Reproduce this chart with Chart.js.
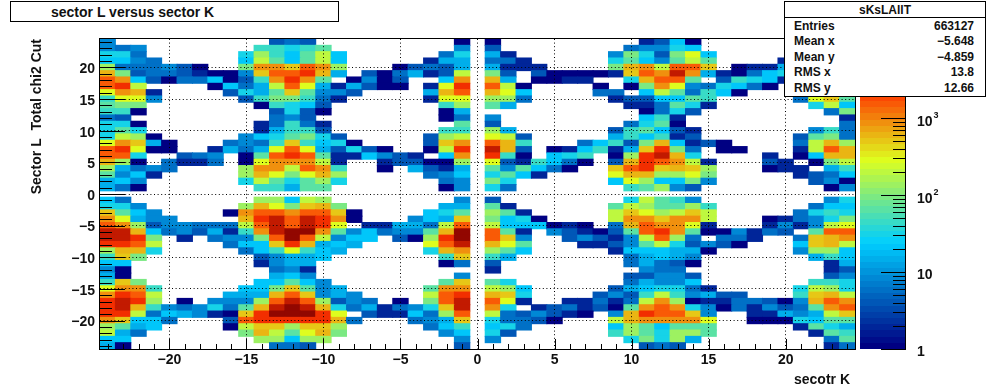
<!DOCTYPE html>
<html><head><meta charset="utf-8">
<script src="https://cdn.jsdelivr.net/npm/chart.js@4"></script>
<style>
html,body{margin:0;padding:0;background:#fff}
#wrap{position:relative;width:1006px;height:388px;overflow:hidden;font:bold 14px "Liberation Sans",Arial,sans-serif;color:#111}
canvas{position:absolute;left:0;top:0}
#title{position:absolute;left:10px;top:1px;width:327px;height:19px;border:1px solid #000;background:#fff;line-height:20px}
#title span{position:absolute;left:40px;top:0;white-space:nowrap}
#xtitle{position:absolute;right:156px;top:371px;line-height:16px;white-space:nowrap}
#stats{position:absolute;left:784px;top:1px;width:200px;height:94px;border:1px solid #000;background:#fff;font-size:12px}
#stats .h{position:absolute;left:0;right:0;top:0;height:15px;line-height:16px;text-align:center;border-bottom:1px solid #000}
#stats .l,#stats .v{position:absolute;line-height:14px;white-space:nowrap}
#stats .l{left:9px}#stats .v{right:11px}
</style></head><body>
<div id="wrap"><canvas id="c" width="1006" height="388"></canvas>
<div id="title"><span>sector L versus sector K</span></div>
<div id="xtitle"></div>
<div id="stats"><div class="h" id="sh"></div></div></div>
<script>
const chartTitle="sector L versus sector K";
const xTitle="secotr K";
const yTitle="Sector L  Total chi2 Cut";
const statsName="sKsLAllT";
const statsLabels=["Entries","Mean x","Mean y","RMS x","RMS y"];
const statsValues=["663127","\u22125.648","\u22124.859","13.8","12.66"];
const xTickValues=[-20,-15,-10,-5,0,5,10,15,20];
const yTickValues=[-20,-15,-10,-5,0,5,10,15,20];
const xMinorValues=[-24,-23,-22,-21,-19,-18,-17,-16,-14,-13,-12,-11,-9,-8,-7,-6,-4,-3,-2,-1,1,2,3,4,6,7,8,9,11,12,13,14,16,17,18,19,21,22,23,24];
const yMinorValues=xMinorValues;
const zMajorValues=[1,10,100,1000];
const zMinorValues=[2,3,4,5,6,7,8,9,20,30,40,50,60,70,80,90,200,300,400,500,600,700,800,900,2000,3000,4000,5000,6000,7000,8000,9000];
const zMax=10700;

// each row: [x, count] pairs for one y value
const row_p24=[[-24,9],[-13,4],[-12,6],[-11,4],[-1,1],[1,1],[11,2],[12,4],[13,23],[14,1]];
const row_p23=[[-24,9],[-23,6],[-22,9],[-14,45],[-13,45],[-12,32],[-11,45],[-10,70],[-1,9],[1,4],[10,6],[11,9],[12,9],[13,32],[14,23]];
const row_p22=[[-24,32],[-23,32],[-22,6],[-15,32],[-14,137],[-13,45],[-12,23],[-11,70],[-10,208],[-9,23],[-2,6],[-1,32],[1,14],[2,2],[9,9],[10,95],[11,32],[12,4],[13,95],[14,300],[15,23]];
const row_p21=[[-24,23],[-23,23],[-22,9],[-21,6],[-15,23],[-14,208],[-13,70],[-12,23],[-11,70],[-10,208],[-9,23],[-3,2],[-2,14],[-1,14],[1,6],[2,6],[3,2],[9,32],[10,70],[11,23],[12,9],[13,70],[14,208],[15,70],[20,2]];
const row_p20=[[-24,137],[-23,6],[-22,6],[-21,6],[-20,9],[-19,4],[-18,1],[-15,95],[-14,955],[-13,955],[-12,457],[-11,1500],[-10,955],[-9,137],[-5,1],[-4,4],[-3,6],[-2,4],[-1,14],[1,14],[2,2],[3,2],[4,2],[9,95],[10,660],[11,955],[12,208],[13,1500],[14,1500],[15,457],[17,1],[18,2],[19,2],[20,14]];
const row_p19=[[-24,660],[-23,95],[-22,4],[-21,6],[-20,6],[-19,4],[-18,2],[-17,1],[-16,1],[-15,9],[-14,457],[-13,1500],[-12,1500],[-11,2700],[-10,660],[-9,14],[-7,4],[-6,1],[-5,6],[-4,14],[-3,2],[-2,4],[-1,208],[1,95],[2,4],[4,4],[5,1],[6,1],[7,1],[8,1],[9,2],[10,457],[11,1500],[12,955],[13,4700],[14,955],[15,14],[16,2],[17,1],[18,6],[19,23],[20,32]];
const row_p18=[[-24,1500],[-23,955],[-22,23],[-21,4],[-20,1],[-19,6],[-18,6],[-17,23],[-16,1],[-15,4],[-14,45],[-13,955],[-12,2700],[-11,955],[-10,70],[-8,1],[-7,9],[-6,1],[-5,4],[-2,23],[-1,955],[1,660],[2,14],[4,1],[5,1],[6,2],[7,2],[10,32],[11,660],[12,1500],[13,1500],[14,70],[16,4],[17,45],[18,32],[19,23],[20,2]];
const row_p17=[[-24,1500],[-23,2700],[-22,208],[-17,1],[-16,23],[-15,6],[-14,14],[-13,208],[-12,1500],[-11,300],[-10,14],[-9,2],[-8,14],[-7,4],[-6,1],[-5,1],[-3,2],[-2,300],[-1,2700],[1,1500],[2,208],[3,1],[8,1],[10,1],[11,95],[12,955],[13,300],[14,9],[15,6],[16,32],[17,23],[18,6],[19,1]];
const row_p16=[[-24,300],[-23,955],[-22,660],[-21,2],[-16,4],[-15,32],[-14,14],[-13,70],[-12,457],[-11,70],[-10,9],[-9,9],[-8,4],[-3,14],[-2,660],[-1,1500],[1,660],[2,300],[3,23],[8,6],[9,6],[11,23],[12,208],[13,70],[14,6],[15,45],[16,23],[17,1]];
const row_p15=[[-24,45],[-23,300],[-22,300],[-21,9],[-15,4],[-14,45],[-13,95],[-12,95],[-11,45],[-10,6],[-9,2],[-3,2],[-2,300],[-1,300],[1,137],[2,137],[3,6],[9,2],[10,4],[11,4],[12,23],[13,23],[14,70],[15,45],[21,6],[22,300],[23,457],[24,70]];
const row_p14=[[-24,70],[-23,95],[-22,95],[-14,1],[-13,45],[-12,32],[-11,23],[-10,4],[-2,45],[-1,137],[1,70],[2,14],[10,2],[11,2],[12,6],[13,70],[14,32],[15,2],[22,32],[23,208],[24,23]];
const row_p13=[[-24,45],[-23,45],[-22,1],[-13,4],[-12,32],[-11,4],[-10,1],[-2,1],[-1,14],[11,1],[12,6],[13,32],[14,4],[23,6],[24,95]];
const row_p12=[[-24,6],[-23,4],[-13,6],[-12,9],[-11,4],[-2,1],[-1,6],[1,9],[11,23],[12,45],[13,2],[24,2]];
const row_p11=[[-24,32],[-23,32],[-22,1],[-14,2],[-13,6],[-12,45],[-11,6],[-10,2],[-1,70],[1,4],[10,6],[11,32],[12,70],[13,1],[24,6]];
const row_p10=[[-24,32],[-23,70],[-22,32],[-14,2],[-13,14],[-12,45],[-11,45],[-10,4],[-2,45],[-1,45],[1,137],[2,14],[9,4],[10,45],[11,70],[12,23],[13,4],[14,2],[22,9],[23,45],[24,6]];
const row_p9=[[-24,32],[-23,208],[-22,137],[-21,1],[-15,9],[-14,23],[-13,32],[-12,70],[-11,95],[-10,32],[-9,4],[-3,4],[-2,137],[-1,208],[1,300],[2,208],[3,4],[9,14],[10,45],[11,23],[12,45],[13,2],[14,4],[21,4],[22,70],[23,95],[24,6]];
const row_p8=[[-24,300],[-23,955],[-22,457],[-21,14],[-20,1],[-16,6],[-15,9],[-14,6],[-13,45],[-12,457],[-11,45],[-10,23],[-9,32],[-8,1],[-3,4],[-2,457],[-1,955],[1,1500],[2,660],[3,45],[7,6],[8,23],[9,45],[10,4],[11,95],[12,660],[13,23],[14,2],[15,4],[16,1],[21,6],[22,208],[23,660],[24,137]];
const row_p7=[[-24,1500],[-23,2700],[-22,300],[-21,1],[-20,1],[-17,2],[-16,14],[-15,6],[-14,14],[-13,300],[-12,1500],[-11,300],[-10,14],[-9,4],[-8,32],[-7,4],[-6,1],[-3,1],[-2,208],[-1,2700],[1,4700],[2,660],[3,4],[5,1],[6,2],[7,23],[8,45],[9,2],[10,14],[11,457],[12,2700],[13,95],[14,6],[16,1],[17,1],[21,2],[22,208],[23,1500],[24,660]];
const row_p6=[[-24,1500],[-23,1500],[-22,32],[-19,4],[-18,6],[-17,9],[-15,1],[-14,70],[-13,1500],[-12,2700],[-11,1500],[-10,70],[-9,2],[-8,2],[-7,23],[-6,9],[-5,4],[-4,2],[-2,23],[-1,955],[1,2700],[2,45],[3,1],[5,23],[6,32],[7,45],[9,1],[10,137],[11,2700],[12,4700],[13,660],[14,32],[19,2],[21,1],[22,23],[23,660],[24,660]];
const row_p5=[[-24,660],[-23,137],[-22,1],[-20,6],[-19,2],[-18,2],[-17,6],[-15,1],[-14,300],[-13,955],[-12,955],[-11,955],[-10,208],[-9,2],[-6,2],[-5,4],[-4,4],[-3,1],[-2,1],[-1,137],[1,300],[2,4],[3,2],[4,45],[5,23],[6,6],[7,1],[9,4],[10,660],[11,2700],[12,1500],[13,955],[14,208],[15,2],[19,4],[20,2],[22,1],[23,95],[24,208]];
const row_p4=[[-24,137],[-23,14],[-22,6],[-21,9],[-20,6],[-15,137],[-14,955],[-13,955],[-12,208],[-11,1500],[-10,955],[-9,45],[-6,1],[-4,14],[-3,4],[-2,2],[-1,14],[1,70],[2,9],[3,70],[4,23],[5,6],[6,1],[9,457],[10,1500],[11,2700],[12,457],[13,660],[14,457],[15,137],[19,1],[20,2],[21,2],[23,14],[24,45]];
const row_p3=[[-24,70],[-23,9],[-22,23],[-21,2],[-15,137],[-14,660],[-13,300],[-12,95],[-11,300],[-10,660],[-9,137],[-3,6],[-2,9],[-1,23],[1,32],[2,70],[3,23],[4,2],[9,300],[10,660],[11,660],[12,137],[13,137],[14,300],[15,95],[21,2],[22,4],[23,6],[24,23]];
const row_p2=[[-24,14],[-23,23],[-22,9],[-15,32],[-14,208],[-13,70],[-12,32],[-11,70],[-10,137],[-9,32],[-2,6],[-1,9],[1,95],[2,32],[9,23],[10,300],[11,137],[12,23],[13,23],[14,95],[15,9],[22,4],[23,9],[24,1]];
const row_p1=[[-24,14],[-23,6],[-22,1],[-14,45],[-13,45],[-12,14],[-11,70],[-10,70],[-2,1],[-1,9],[1,32],[2,6],[10,45],[11,70],[12,137],[13,9],[14,4],[23,1],[24,9]];
const row_m1=[[-24,23],[-23,6],[-14,137],[-13,137],[-12,23],[-11,208],[-10,137],[-1,9],[1,4],[10,32],[11,208],[12,70],[13,45],[14,9],[23,9],[24,32]];
const row_m2=[[-24,32],[-23,32],[-22,9],[-15,137],[-14,660],[-13,300],[-12,95],[-11,457],[-10,660],[-9,95],[-2,14],[-1,14],[1,70],[2,2],[9,70],[10,208],[11,137],[12,70],[13,70],[14,137],[15,45],[22,6],[23,23],[24,23]];
const row_m3=[[-24,457],[-23,70],[-22,23],[-21,9],[-16,1],[-15,955],[-14,1500],[-13,1500],[-12,955],[-11,1500],[-10,1500],[-9,457],[-8,1],[-3,23],[-2,32],[-1,70],[1,137],[2,70],[3,2],[9,208],[10,457],[11,300],[12,137],[13,208],[14,457],[15,208],[21,6],[22,32],[23,45],[24,32]];
const row_m4=[[-24,955],[-23,300],[-22,14],[-21,9],[-20,9],[-15,660],[-14,2700],[-13,4700],[-12,1500],[-11,4700],[-10,2700],[-9,955],[-8,1],[-4,9],[-3,23],[-2,14],[-1,457],[1,95],[2,23],[3,32],[4,1],[9,208],[10,955],[11,955],[12,457],[13,955],[14,955],[15,208],[19,1],[20,2],[21,6],[22,9],[23,32],[24,95]];
const row_m5=[[-24,1500],[-23,955],[-22,137],[-21,4],[-20,9],[-19,9],[-18,6],[-17,6],[-16,6],[-15,208],[-14,1500],[-13,4700],[-12,1500],[-11,4700],[-10,2700],[-9,300],[-7,2],[-6,2],[-5,14],[-4,14],[-3,6],[-2,208],[-1,1500],[1,208],[2,23],[3,23],[4,23],[5,1],[6,2],[7,1],[9,6],[10,660],[11,1500],[12,955],[13,955],[14,300],[15,2],[19,2],[20,9],[21,2],[22,9],[23,208],[24,300]];
const row_m6=[[-24,4700],[-23,4700],[-22,660],[-21,23],[-20,6],[-19,9],[-18,4],[-17,14],[-16,2],[-15,45],[-14,955],[-13,4700],[-12,7400],[-11,7400],[-10,955],[-9,70],[-8,9],[-7,23],[-6,6],[-5,9],[-4,9],[-3,70],[-2,660],[-1,7400],[1,1500],[2,70],[3,2],[5,9],[6,4],[7,2],[8,1],[9,4],[10,70],[11,1500],[12,2700],[13,955],[14,70],[15,1],[16,1],[17,9],[18,2],[19,6],[20,4],[22,70],[23,1500],[24,1500]];
const row_m7=[[-24,4700],[-23,4700],[-22,2700],[-21,95],[-19,2],[-17,6],[-16,9],[-15,9],[-14,95],[-13,1500],[-12,7400],[-11,1500],[-10,208],[-9,9],[-8,23],[-7,23],[-5,4],[-4,1],[-3,137],[-2,2700],[-1,7400],[1,1500],[2,457],[3,9],[6,4],[7,9],[8,4],[9,2],[10,9],[11,208],[12,1500],[13,137],[14,6],[16,6],[17,6],[18,2],[21,6],[22,457],[23,660],[24,955]];
const row_m8=[[-24,2700],[-23,2700],[-22,1500],[-21,208],[-16,6],[-15,23],[-14,23],[-13,457],[-12,2700],[-11,660],[-10,14],[-9,23],[-8,14],[-3,300],[-2,1500],[-1,4700],[1,660],[2,300],[3,70],[7,2],[8,2],[9,4],[10,9],[11,70],[12,208],[13,32],[14,4],[15,9],[16,4],[17,1],[21,23],[22,457],[23,660],[24,208]];
const row_m9=[[-24,137],[-23,660],[-22,660],[-21,32],[-15,6],[-14,23],[-13,45],[-12,300],[-11,45],[-10,23],[-9,14],[-3,32],[-2,660],[-1,955],[1,137],[2,70],[3,23],[9,2],[10,23],[11,23],[12,23],[13,14],[14,14],[15,1],[21,9],[22,137],[23,137],[24,23]];
const row_m10=[[-24,45],[-23,457],[-22,95],[-14,4],[-13,9],[-12,14],[-11,14],[-10,23],[-2,45],[-1,457],[1,45],[2,14],[10,6],[11,14],[12,23],[13,14],[14,9],[22,14],[23,45],[24,23]];
const row_m11=[[-24,23],[-23,23],[-14,2],[-13,9],[-12,14],[-11,14],[-2,1],[-1,6],[1,4],[10,6],[11,14],[12,6],[13,4],[14,1],[23,2],[24,14]];
const row_m12=[[-24,9],[-23,1],[-13,6],[-12,9],[-11,2],[1,2],[11,9],[12,6],[13,6],[23,2],[24,4]];
const row_m13=[[-24,14],[-23,1],[-13,14],[-12,23],[-11,9],[-1,9],[10,4],[11,4],[12,9],[13,9],[14,4],[23,4],[24,9]];
const row_m14=[[-24,45],[-23,457],[-22,95],[-14,23],[-13,23],[-12,70],[-11,23],[-10,9],[-2,70],[-1,457],[1,70],[2,32],[10,6],[11,14],[12,9],[13,9],[14,23],[22,45],[23,45],[24,32]];
const row_m15=[[-24,300],[-23,955],[-22,955],[-21,45],[-15,23],[-14,23],[-13,95],[-12,457],[-11,70],[-10,9],[-9,14],[-3,70],[-2,955],[-1,955],[1,208],[2,137],[3,23],[9,4],[10,14],[11,23],[12,32],[13,32],[14,6],[15,2],[21,32],[22,208],[23,137],[24,32]];
const row_m16=[[-24,955],[-23,2700],[-22,1500],[-21,208],[-16,14],[-15,14],[-14,14],[-13,660],[-12,1500],[-11,457],[-10,9],[-9,14],[-8,9],[-3,208],[-2,1500],[-1,2700],[1,660],[2,457],[3,32],[8,4],[9,9],[10,4],[11,45],[12,208],[13,45],[14,9],[15,14],[16,4],[17,4],[21,45],[22,457],[23,660],[24,208]];
const row_m17=[[-24,2700],[-23,4700],[-22,2700],[-21,137],[-19,1],[-17,9],[-16,9],[-15,9],[-14,137],[-13,1500],[-12,4700],[-11,1500],[-10,137],[-9,4],[-8,9],[-7,6],[-5,1],[-3,95],[-2,1500],[-1,4700],[1,1500],[2,300],[3,2],[6,2],[7,2],[8,6],[9,2],[10,6],[11,208],[12,955],[13,137],[14,1],[15,2],[16,2],[17,6],[18,6],[19,4],[20,1],[21,9],[22,660],[23,1500],[24,955]];
const row_m18=[[-24,2700],[-23,4700],[-22,660],[-21,45],[-20,9],[-19,6],[-18,9],[-17,32],[-16,6],[-15,70],[-14,660],[-13,4700],[-12,7400],[-11,4700],[-10,660],[-9,32],[-8,6],[-7,14],[-6,2],[-5,6],[-4,9],[-3,32],[-2,457],[-1,4700],[1,955],[2,32],[4,2],[5,4],[6,6],[7,2],[8,4],[9,1],[10,70],[11,955],[12,1500],[13,955],[14,32],[15,9],[16,1],[17,6],[18,2],[19,9],[20,4],[21,6],[22,70],[23,955],[24,1500]];
const row_m19=[[-24,2700],[-23,2700],[-22,208],[-21,6],[-20,23],[-19,14],[-18,9],[-17,2],[-16,1],[-15,457],[-14,2700],[-13,7400],[-12,7400],[-11,7400],[-10,2700],[-9,300],[-7,4],[-6,2],[-5,2],[-4,23],[-3,6],[-2,137],[-1,1500],[1,208],[2,6],[3,4],[4,9],[5,4],[6,2],[7,1],[9,9],[10,660],[11,2700],[12,1500],[13,1500],[14,457],[15,9],[18,2],[19,2],[20,14],[21,9],[22,14],[23,208],[24,457]];
const row_m20=[[-24,955],[-23,457],[-22,23],[-21,23],[-20,6],[-16,4],[-15,1500],[-14,2700],[-13,2700],[-12,2700],[-11,2700],[-10,2700],[-9,660],[-8,6],[-4,6],[-3,9],[-2,14],[-1,457],[1,32],[2,6],[3,6],[4,4],[5,1],[9,208],[10,660],[11,955],[12,955],[13,955],[14,955],[15,300],[18,1],[19,1],[20,1],[21,32],[22,23],[23,70],[24,70]];
const row_m21=[[-24,137],[-23,70],[-22,14],[-21,23],[-16,1],[-15,208],[-14,457],[-13,457],[-12,137],[-11,457],[-10,457],[-9,137],[-3,6],[-2,23],[-1,45],[1,23],[2,32],[3,6],[9,23],[10,137],[11,70],[12,23],[13,70],[14,70],[15,70],[21,2],[22,70],[23,32],[24,14]];
const row_m22=[[-24,208],[-23,14],[-22,6],[-15,95],[-14,660],[-13,208],[-12,70],[-11,300],[-10,660],[-9,95],[-2,9],[-1,23],[1,32],[2,4],[9,45],[10,137],[11,70],[12,32],[13,137],[14,137],[15,70],[22,2],[23,70],[24,45]];
const row_m23=[[-24,23],[-23,23],[-14,137],[-13,137],[-12,23],[-11,137],[-10,137],[-1,9],[1,9],[10,32],[11,95],[12,32],[13,137],[14,14],[23,6],[24,70]];
const row_m24=[[-24,14],[-23,1],[-13,6],[-12,6],[-11,4],[-1,4],[11,4],[12,6],[13,4],[23,2],[24,6]];
const rowValues=[row_p24,row_p23,row_p22,row_p21,row_p20,row_p19,row_p18,row_p17,row_p16,row_p15,row_p14,row_p13,row_p12,row_p11,row_p10,row_p9,row_p8,row_p7,row_p6,row_p5,row_p4,row_p3,row_p2,row_p1,[],row_m1,row_m2,row_m3,row_m4,row_m5,row_m6,row_m7,row_m8,row_m9,row_m10,row_m11,row_m12,row_m13,row_m14,row_m15,row_m16,row_m17,row_m18,row_m19,row_m20,row_m21,row_m22,row_m23,row_m24];
const rowY=rowValues.map((_,i)=>24-i);

// ROOT rainbow gradient, 50 contour levels on a log z scale
const paletteStops=[0,0.34,0.61,0.84,1];
const paletteR=[0,0,0.87,1,0.51];
const paletteG=[0,0.81,1,0.2,0];
const paletteB=[0.51,1,0.12,0,0];
const nLevels=50;
function levelColor(level){
  const t=level/(nLevels-1);let i=0;
  while(i<paletteStops.length-2&&t>paletteStops[i+1])i++;
  const f=(t-paletteStops[i])/(paletteStops[i+1]-paletteStops[i]);
  const ch=a=>Math.round(255*(a[i]+(a[i+1]-a[i])*f));
  return `rgb(${ch(paletteR)},${ch(paletteG)},${ch(paletteB)})`;
}
function valueColor(v){
  const l=Math.floor(Math.log10(v)/Math.log10(zMax)*nLevels);
  return levelColor(Math.max(0,Math.min(nLevels-1,l)));
}
const cells=[];
rowValues.forEach((row,i)=>row.forEach(([x,v])=>cells.push({x,y:[rowY[i]-0.5,rowY[i]+0.5],v})));

const FONT='"Liberation Sans",Arial,sans-serif';
const INK='#111';
const DOTS=[1,2.6];
const rootFrame={id:'rootFrame',afterDraw(ch){
  const c=ch.ctx,a=ch.chartArea,X=ch.scales.x,Y=ch.scales.y,Z=ch.scales.z;
  c.save();c.strokeStyle='#000';c.lineWidth=1;
  const hl=(x0,x1,y)=>{const p=Math.round(y)+.5;c.beginPath();c.moveTo(x0,p);c.lineTo(x1,p);c.stroke();};
  const vl=(x,y0,y1)=>{const p=Math.round(x)+.5;c.beginPath();c.moveTo(p,y0);c.lineTo(p,y1);c.stroke();};
  xTickValues.forEach(v=>vl(X.getPixelForValue(v),a.bottom-10,a.bottom));
  xMinorValues.forEach(v=>vl(X.getPixelForValue(v),a.bottom-5,a.bottom));
  yTickValues.forEach(v=>hl(a.left,a.left+25,Y.getPixelForValue(v)));
  yMinorValues.forEach(v=>hl(a.left,a.left+12,Y.getPixelForValue(v)));
  c.strokeRect(Math.round(a.left)-.5,Math.round(a.top)-.5,Math.round(a.right-a.left)+1,Math.round(a.bottom-a.top)+1);
  // colour bar
  const bx0=860,bx1=905;
  for(let l=0;l<nLevels;l++){
    const y0=Z.getPixelForValue(Math.pow(zMax,l/nLevels)),y1=Z.getPixelForValue(Math.pow(zMax,(l+1)/nLevels));
    c.fillStyle=levelColor(l);c.fillRect(bx0,Math.round(y1),bx1-bx0,Math.round(y0)-Math.round(y1));
  }
  vl(bx1,a.top,a.bottom+1);
  zMajorValues.forEach(v=>hl(bx1-24,bx1,Z.getPixelForValue(v)));
  zMinorValues.forEach(v=>hl(bx1-12,bx1,Z.getPixelForValue(v)));
  c.fillStyle=INK;c.textBaseline='middle';c.textAlign='left';
  zMajorValues.forEach(v=>{
    const e=Math.round(Math.log10(v)),p=Z.getPixelForValue(v)+(e>1?4:3);
    c.font='bold 14px '+FONT;
    const base=e===0?'1':'10';c.fillText(base,917,p);
    if(e>1){const w=c.measureText(base).width;c.font='bold 9px '+FONT;c.fillText(String(e),917+w+1,p-7);}
  });
  c.restore();
}};

new Chart(document.getElementById('c'),{
  type:'bar',
  data:{datasets:[{data:cells,parsing:{xAxisKey:'x',yAxisKey:'y'},borderWidth:0,
    backgroundColor:ctx=>ctx.raw?valueColor(ctx.raw.v):'#fff',
    categoryPercentage:1,barPercentage:1,inflateAmount:0.5}]},
  options:{responsive:false,animation:false,devicePixelRatio:1,
    layout:{padding:{top:39,left:0,right:0,bottom:0}},
    plugins:{legend:{display:false},tooltip:{enabled:false},title:{display:false}},
    scales:{
      x:{type:'linear',min:-24.5,max:24.5,offset:false,
        afterBuildTicks:s=>{s.ticks=xTickValues.map(value=>({value}));},
        afterFit:s=>{s.height=39;},
        grid:{offset:false,z:1,color:'#000',lineWidth:1,drawTicks:false},
        border:{display:false,dash:DOTS},
        ticks:{color:INK,font:{family:FONT,size:14,weight:'bold'},padding:3,autoSkip:false,maxRotation:0,
          callback:v=>String(v).replace('-','\u2212')},
        title:{display:false}},
      y:{type:'linear',min:-24.5,max:24.5,
        afterBuildTicks:s=>{s.ticks=yTickValues.map(value=>({value}));},
        afterFit:s=>{s.width=100;},
        grid:{z:1,color:'#000',lineWidth:1,drawTicks:false},
        border:{display:false,dash:DOTS},
        ticks:{color:INK,font:{family:FONT,size:14,weight:'bold'},padding:5,labelOffset:2,autoSkip:false,
          callback:v=>String(v).replace('-','\u2212')},
        title:{display:true,text:yTitle,align:'end',color:INK,font:{family:FONT,size:14,weight:'bold'},padding:{top:29,bottom:0}}},
      z:{type:'logarithmic',position:'right',min:1,max:zMax,
        afterFit:s=>{s.width=151;},
        grid:{display:false},border:{display:false},ticks:{display:false}}
    }
  },
  plugins:[rootFrame]
});

document.querySelector('#title span').textContent=chartTitle;
document.getElementById('xtitle').textContent=xTitle;
const st=document.getElementById('stats');
document.getElementById('sh').textContent=statsName;
const statsTop=[17,32,48,63,79];
statsLabels.forEach((t,i)=>{
  const l=document.createElement('div');l.className='l';l.textContent=t;l.style.top=statsTop[i]+'px';st.appendChild(l);
  const v=document.createElement('div');v.className='v';v.textContent=statsValues[i];v.style.top=statsTop[i]+'px';st.appendChild(v);
});
</script></body></html>
